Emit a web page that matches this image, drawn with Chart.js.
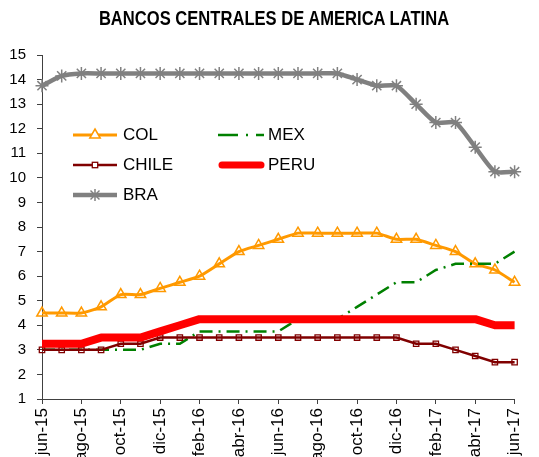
<!DOCTYPE html>
<html>
<head>
<meta charset="utf-8">
<script src="https://cdn.jsdelivr.net/npm/chart.js@4/dist/chart.umd.min.js"></script>
<style>
  html, body { margin: 0; padding: 0; background: #fff; overflow: hidden; }
  #wrap { position: relative; width: 539px; height: 457px; }
  #titulo { position: absolute; left: 0; top: 7px; width: 548px; text-align: center; line-height: 20px;
            font: bold 19.5px 'Liberation Sans', Arial, sans-serif; color: #000; white-space: nowrap;
            transform: scaleX(0.85); transform-origin: 274px 10px; }
  #legend { position: absolute; left: 0; top: 0; }
  .item { position: absolute; height: 20px; }
  .item svg { position: absolute; left: 0; top: 0; }
  .item span { position: absolute; top: 0; line-height: 20px; font: 17px 'Liberation Sans', Arial, sans-serif; color: #000; white-space: nowrap; }
</style>
</head>
<body>
<div id="wrap">
  <canvas id="chart" width="539" height="457"></canvas>
  <div id="titulo">BANCOS CENTRALES DE AMERICA LATINA</div>
  <div id="legend"></div>
</div>
<script>
// Datos (tasas de referencia, %)
const meses = ['jun-15','jul-15','ago-15','sep-15','oct-15','nov-15','dic-15','ene-16','feb-16','mar-16','abr-16','may-16',
  'jun-16','jul-16','ago-16','sep-16','oct-16','nov-16','dic-16','ene-17','feb-17','mar-17','abr-17','may-17','jun-17'];
const col   = [4.5,4.5,4.5,4.75,5.25,5.25,5.5,5.75,6.0,6.5,7.0,7.25,7.5,7.75,7.75,7.75,7.75,7.75,7.5,7.5,7.25,7.0,6.5,6.25,5.75];
const mex   = [3,3,3,3,3,3,3.25,3.25,3.75,3.75,3.75,3.75,3.75,4.25,4.25,4.25,4.75,5.25,5.75,5.75,6.25,6.5,6.5,6.5,7.0];
const chile = [3,3,3,3,3.25,3.25,3.5,3.5,3.5,3.5,3.5,3.5,3.5,3.5,3.5,3.5,3.5,3.5,3.5,3.25,3.25,3.0,2.75,2.5,2.5];
const peru  = [3.25,3.25,3.25,3.5,3.5,3.5,3.75,4.0,4.25,4.25,4.25,4.25,4.25,4.25,4.25,4.25,4.25,4.25,4.25,4.25,4.25,4.25,4.25,4.0,4.0];
const bra   = [13.75,14.15,14.25,14.25,14.25,14.25,14.25,14.25,14.25,14.25,14.25,14.25,14.25,14.25,14.25,14.25,14.0,13.75,13.75,13.0,12.25,12.25,11.25,10.25,10.25];
const yTicks = [1,2,3,4,5,6,7,8,9,10,11,12,13,14,15];

const NARANJA = '#FF9900', VERDE = '#008000', GRANATE = '#800000', ROJO = '#FF0000', GRIS = '#808080';
const EJE = '#404040';

const ctx = document.getElementById('chart');
new Chart(ctx, {
    type: 'line',
    data: {
        labels: meses,
        datasets: [
            { label: 'COL', data: col, borderColor: NARANJA, borderWidth: 3, tension: 0.2,
              pointStyle: 'triangle', pointRadius: 6, pointBorderWidth: 1.5,
              pointBackgroundColor: 'rgba(255,255,255,0)', pointBorderColor: NARANJA, order: 5, clip: false },
            { label: 'MEX', data: mex, borderColor: VERDE, borderWidth: 2.5, borderDash: [13, 6, 2, 6],
              pointRadius: 0, order: 4, clip: false },
            { label: 'CHILE', data: chile, borderColor: GRANATE, borderWidth: 2.5,
              pointStyle: 'rect', pointRadius: 3.8, pointBorderWidth: 1.3,
              pointBackgroundColor: 'rgba(255,255,255,0)', pointBorderColor: GRANATE, order: 3, clip: false },
            { label: 'PERU', data: peru, borderColor: ROJO, borderWidth: 8, pointRadius: 0,
              borderJoinStyle: 'round', order: 2, clip: false },
            { label: 'BRA', data: bra, borderColor: GRIS, borderWidth: 4.5, tension: 0.2,
              pointStyle: 'star', pointRadius: 6.5, pointBorderWidth: 1.5, pointBorderColor: GRIS,
              order: 1, clip: false }
        ]
    },
    options: {
        responsive: false,
        animation: false,
        layout: { padding: { left: 0, right: 12, top: 55, bottom: 0 } },
        plugins: {
            legend: { display: false },
            tooltip: { enabled: false },
            title: { display: false }
        },
        scales: {
            x: {
                type: 'category',
                offset: false,
                afterFit: s => { s.height = 58; },
                border: { display: true, color: EJE, width: 1 },
                grid: {
                    drawOnChartArea: false, drawTicks: true, tickLength: 5,
                    tickColor: c => (c.index % 2 === 0 ? EJE : 'rgba(0,0,0,0)')
                },
                ticks: {
                    autoSkip: false, minRotation: 90, maxRotation: 90, padding: 4,
                    color: '#000',
                    font: { family: "'Liberation Sans', Arial", size: 17 },
                    callback: (v, i) => (i % 2 === 0 ? meses[i] : '')
                }
            },
            y: {
                min: yTicks[0],
                max: yTicks[yTicks.length - 1],
                afterFit: s => { s.width = 42; },
                afterBuildTicks: s => { s.ticks = yTicks.map(v => ({ value: v })); },
                border: { display: true, color: EJE, width: 1 },
                grid: { drawOnChartArea: false, drawTicks: true, tickLength: 5, tickColor: EJE },
                ticks: {
                    padding: 11, color: '#000',
                    font: { family: "'Liberation Sans', Arial", size: 15 }
                }
            }
        }
    }
});

// Leyenda dentro del gráfico (dos columnas, como en Excel)
const leyenda = [
    { nombre: 'COL',   x: 73,  y: 135, svg: `<line x1="0" y1="10" x2="44" y2="10" stroke="${NARANJA}" stroke-width="3"/>
        <polygon points="22,4 27.2,13 16.8,13" fill="#fff" stroke="${NARANJA}" stroke-width="1.5"/>` },
    { nombre: 'MEX',   x: 218, y: 135, svg: `<line x1="0" y1="10" x2="46" y2="10" stroke="${VERDE}" stroke-width="2.5" stroke-dasharray="20 8 2 8"/>` },
    { nombre: 'CHILE', x: 73,  y: 165, svg: `<line x1="0" y1="10" x2="44" y2="10" stroke="${GRANATE}" stroke-width="2.5"/>
        <rect x="19.3" y="7.3" width="5.4" height="5.4" fill="#fff" stroke="${GRANATE}" stroke-width="1.3"/>` },
    { nombre: 'PERU',  x: 218, y: 165, svg: `<line x1="4" y1="10" x2="43" y2="10" stroke="${ROJO}" stroke-width="7" stroke-linecap="round"/>` },
    { nombre: 'BRA',   x: 73,  y: 195, svg: `<line x1="0" y1="10" x2="44" y2="10" stroke="${GRIS}" stroke-width="4.5"/>
        <g stroke="${GRIS}" stroke-width="1.5"><line x1="22" y1="4" x2="22" y2="16"/><line x1="16" y1="10" x2="28" y2="10"/>
        <line x1="17.5" y1="5.5" x2="26.5" y2="14.5"/><line x1="26.5" y1="5.5" x2="17.5" y2="14.5"/></g>` }
];
const cont = document.getElementById('legend');
leyenda.forEach(it => {
    const d = document.createElement('div');
    d.className = 'item';
    d.style.left = it.x + 'px';
    d.style.top = (it.y - 10) + 'px';
    d.innerHTML = `<svg width="48" height="20">${it.svg}</svg><span style="left:50px">${it.nombre}</span>`;
    cont.appendChild(d);
});
</script>
</body>
</html>
